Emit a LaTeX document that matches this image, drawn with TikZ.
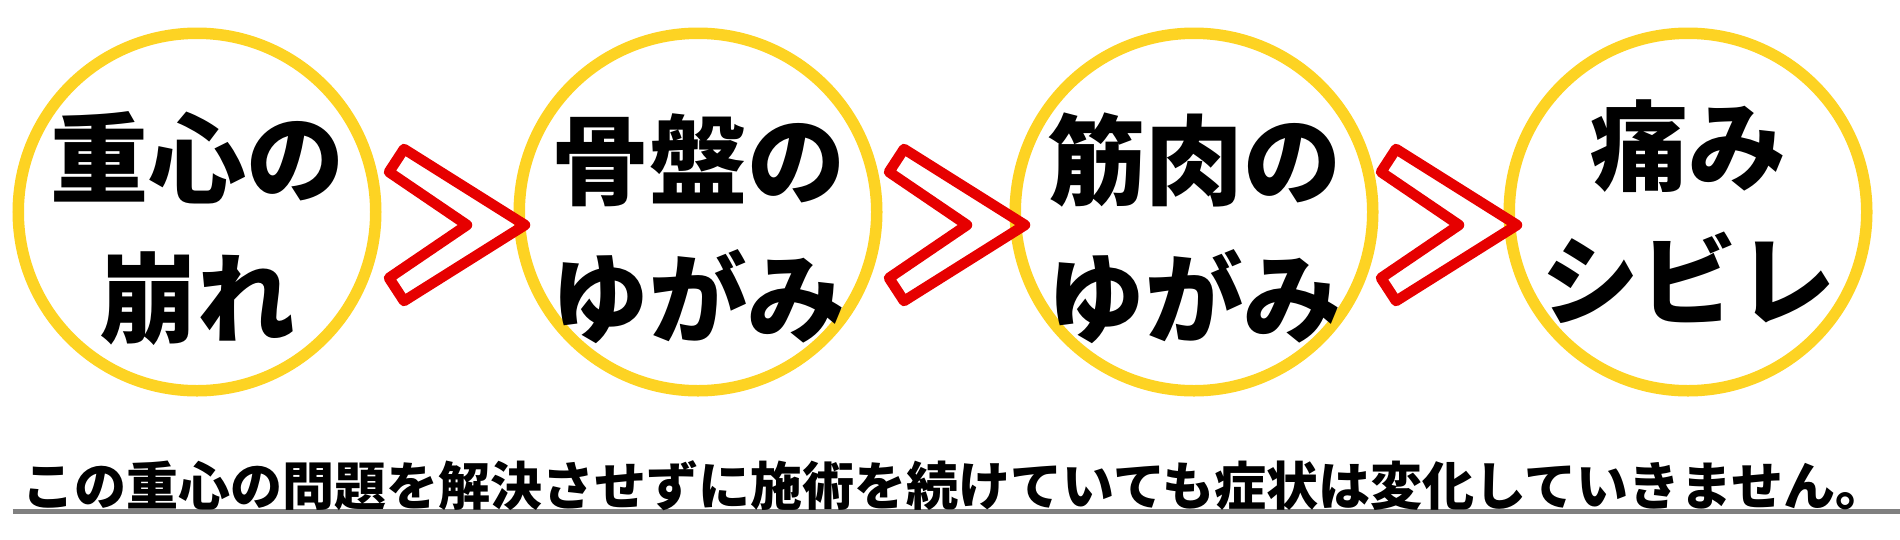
\documentclass[tikz,border=0pt]{standalone}
\usepackage{fontspec}
\setmainfont{Noto Sans CJK JP}
\definecolor{ringyellow}{HTML}{FDD323}
\definecolor{chevred}{HTML}{E60000}
\definecolor{rulegray}{HTML}{808080}
\tikzset{
  ring/.style={circle, draw=ringyellow, line width=11.5pt, minimum size=357.5pt, inner sep=0pt},
  chev/.style={draw=chevred, line width=10.5pt, line join=round},
  bigtxt/.style={anchor=base, inner sep=0pt, font=\bfseries\fontsize{98}{98}\selectfont},
  foot/.style={anchor=base, inner sep=0pt, font=\bfseries\fontsize{52}{52}\selectfont},
  rule/.style={draw=rulegray, line width=5pt},
  chevron/.pic={\draw[chev] (0,-76) -- (121,0) -- (0,76) -- (-15,53) -- (63,0) -- (-15,-53) -- cycle;}
}
\begin{document}
\begin{tikzpicture}[x=1pt,y=-1pt]
\useasboundingbox (0,0) rectangle (1900,539);
% circles
\node[ring] (c1) at (197,212) {};
\node[ring] (c2) at (698,212) {};
\node[ring] (c3) at (1194,212) {};
\node[ring] (c4) at (1688,212) {};
% texts
\node[bigtxt] (t1a) at (197,195) {重心の};
\node[bigtxt] (t1b) at (197,335) {崩れ};
\node[bigtxt] (t2a) at (698,197) {骨盤の};
\node[bigtxt] (t2b) at (698,335) {ゆがみ};
\node[bigtxt] (t3a) at (1194,197) {筋肉の};
\node[bigtxt] (t3b) at (1194,335) {ゆがみ};
\node[bigtxt] (t4a) at (1688,183) {痛み};
\node[bigtxt] (t4b) at (1688,317) {シビレ};
% chevrons
\pic (h1) at (404,225) {chevron};
\pic (h2) at (904,225) {chevron};
\pic (h3) at (1396,225) {chevron};
% bottom rule and note
\coordinate (r0) at (12.7,511.5);
\coordinate (r1) at (1900,511.5);
\draw[rule] (r0) -- (r1);
\node[foot] (note) at (955,505) {この重心の問題を解決させずに施術を続けていても症状は変化していきません。};
\end{tikzpicture}
\end{document}
